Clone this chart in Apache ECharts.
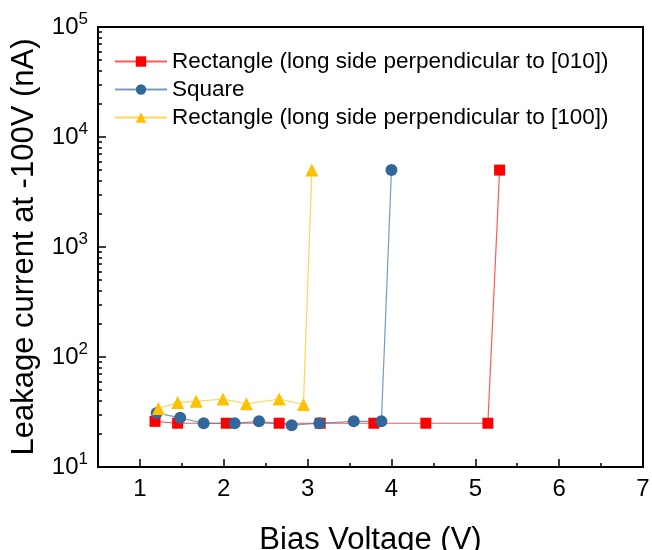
<!DOCTYPE html>
<html>
<head>
<meta charset="utf-8">
<script src="https://cdn.jsdelivr.net/npm/echarts@6.0.0/dist/echarts.min.js"></script>
<style>
  html, body { margin: 0; padding: 0; background: #fff; }
  #chart { width: 652px; height: 550px; }
</style>
</head>
<body>
<div id="chart"></div>
<script>
// values
const rect010X = [1.18, 1.45, 2.03, 2.66, 3.15, 3.79, 4.41, 5.15, 5.29];
const rect010Y = [26, 25, 25, 25, 25, 25, 25, 25, 5000];
const squareX = [1.20, 1.48, 1.76, 2.13, 2.42, 2.81, 3.14, 3.55, 3.88, 4.00];
const squareY = [31, 28, 25, 25, 26, 24, 25, 26, 26, 5000];
const rect100X = [1.22, 1.45, 1.67, 1.99, 2.27, 2.66, 2.95, 3.05];
const rect100Y = [34, 38.5, 39.5, 41.5, 37.5, 41.5, 37, 5000];

const seriesNames = [
  "Rectangle (long side perpendicular to [010])",
  "Square",
  "Rectangle (long side perpendicular to [100])",
];

// minor ticks on the log axis: 2..9 of each decade
const yDecades = [10, 100, 1000, 10000];
const yMinorTicks = [];
yDecades.forEach((d) => {
  for (let k = 2; k <= 9; k++) yMinorTicks.push(d * k);
});

const FONT = "'Liberation Sans', Arial, sans-serif";
const zip = (xs, ys) => xs.map((x, i) => [x, ys[i]]);

// second grid only carries the short minor ticks
const gridBox = { left: 98, right: 9, top: 27, bottom: 83, outerBoundsMode: "none", containLabel: false };

const chart = echarts.init(document.getElementById("chart"));

const makeSeries = (name, data, color, symbol, size) => ({
  name,
  type: "line",
  xAxisIndex: 0,
  yAxisIndex: 0,
  data,
  symbol,
  symbolSize: size,
  showSymbol: true,
  itemStyle: { color, opacity: 1 },
  lineStyle: { color, width: 1.2, opacity: 0.65 },
  emphasis: { disabled: true },
});

const tickLine = { color: "#000", width: 1.5 };

const option = {
  backgroundColor: "#fff",
  animation: false,
  textStyle: { fontFamily: FONT, color: "#000" },
  grid: [
    { ...gridBox, show: true, borderColor: "#000", borderWidth: 2 },
    { ...gridBox, show: false },
  ],
  legend: {
    orient: "vertical",
    left: 114,
    top: 50,
    padding: 0,
    itemWidth: 52,
    itemHeight: 13,
    itemGap: 5,
    textStyle: { fontFamily: FONT, fontSize: 22.5, color: "#000", lineHeight: 21 },
    data: seriesNames,
  },
  xAxis: [
    {
      type: "value",
      gridIndex: 0,
      min: 0.5,
      max: 7,
      name: "Bias Voltage (V)",
      nameLocation: "middle",
      nameGap: 58,
      nameTextStyle: { fontFamily: FONT, fontSize: 31, color: "#000" },
      axisLine: { show: true, onZero: false, lineStyle: { color: "#000", width: 2 } },
      axisTick: { show: true, inside: true, length: 8, lineStyle: tickLine },
      axisLabel: {
        show: true,
        margin: 10,
        fontFamily: FONT,
        fontSize: 24,
        color: "#000",
        formatter: (v) => (Number.isInteger(v) ? String(v) : ""),
      },
      splitLine: { show: false },
    },
    {
      type: "value",
      gridIndex: 1,
      min: 0.5,
      max: 7,
      interval: 0.5,
      axisLine: { show: false },
      axisTick: { show: true, inside: true, length: 4, lineStyle: tickLine },
      axisLabel: { show: false },
      splitLine: { show: false },
    },
  ],
  yAxis: [
    {
      type: "log",
      logBase: 10,
      gridIndex: 0,
      min: 10,
      max: 100000,
      name: "Leakage current at -100V (nA)",
      nameLocation: "middle",
      nameGap: 58,
      nameTextStyle: { fontFamily: FONT, fontSize: 31, color: "#000" },
      axisLine: { show: true, onZero: false, lineStyle: { color: "#000", width: 2 } },
      axisTick: { show: true, inside: true, length: 8, lineStyle: tickLine },
      axisLabel: {
        show: true,
        margin: 10,
        formatter: (v) => "{base|10}{sup|" + Math.round(Math.log10(v)) + "}",
        rich: {
          base: { fontFamily: FONT, fontSize: 24, lineHeight: 32, color: "#000" },
          sup: { fontFamily: FONT, fontSize: 17, lineHeight: 17, verticalAlign: "top", color: "#000" },
        },
      },
      splitLine: { show: false },
    },
    {
      type: "log",
      logBase: 10,
      gridIndex: 1,
      min: 10,
      max: 100000,
      axisLine: { show: false },
      axisTick: { show: true, inside: true, length: 4, customValues: yMinorTicks, lineStyle: tickLine },
      axisLabel: { show: false, customValues: yMinorTicks },
      splitLine: { show: false },
    },
  ],
  series: [
    makeSeries(seriesNames[0], zip(rect010X, rect010Y), "#ff0000", "rect", 11),
    makeSeries(seriesNames[1], zip(squareX, squareY), "#336699", "circle", 12),
    makeSeries(seriesNames[2], zip(rect100X, rect100Y), "#ffc000", "triangle", 13),
  ],
};

chart.setOption(option);
</script>
</body>
</html>
